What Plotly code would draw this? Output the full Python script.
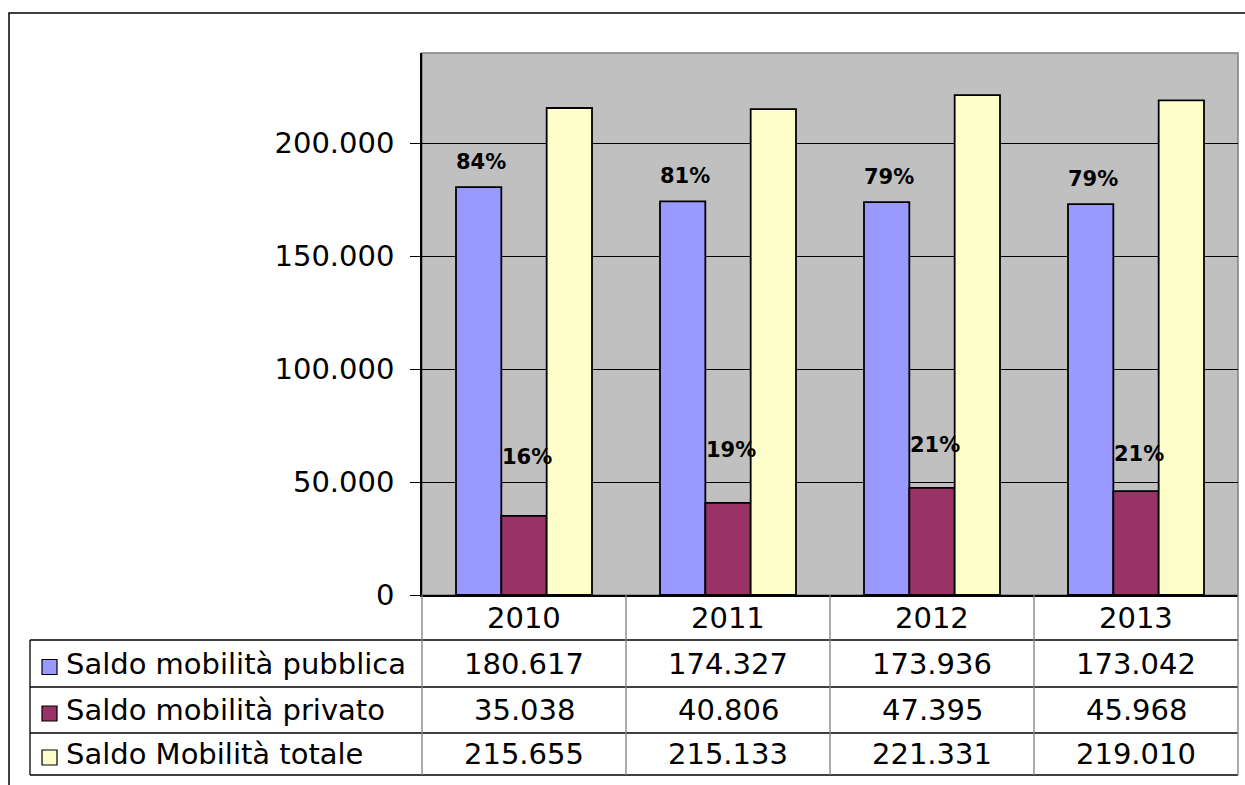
import plotly.graph_objects as go

# Dati: saldo mobilità per anno
years = ["2010", "2011", "2012", "2013"]
series_names = ["Saldo mobilità pubblica", "Saldo mobilità privato", "Saldo Mobilità totale"]
pubblica = [180617, 174327, 173936, 173042]
privato = [35038, 40806, 47395, 45968]
totale = [215655, 215133, 221331, 219010]

colors = ["#9999FF", "#993366", "#FFFFCC"]
series_values = [pubblica, privato, totale]

# Geometria della figura (pixel)
W, H = 1245, 785
PL, PR, PT, PB = 422, 1238, 53, 595  # area del grafico
PW, PH = PR - PL, PB - PT


def fx(px):
    return (px - PL) / PW


def fy(py):
    return (PB - py) / PH


def fmt(v):
    return f"{v:,}".replace(",", ".")


x_pos = list(range(len(years)))
fig = go.Figure()
for name, vals, col in zip(series_names, series_values, colors):
    fig.add_trace(go.Bar(
        x=x_pos, y=vals, name=name,
        marker=dict(color=col, line=dict(color="black", width=1.8)),
        showlegend=False,
    ))

bar_w = (1 - 1 / 3) / 3  # larghezza di ogni barra in unità di categoria

shapes = []
annotations = []

# Etichette percentuali sopra le barre
label_font = dict(family="DejaVu Sans", size=21, color="black", weight="bold")
priv_shift = [59, 53, 43, 37]
for i in x_pos:
    p_pub = round(100 * pubblica[i] / totale[i])
    p_priv = round(100 * privato[i] / totale[i])
    annotations.append(dict(
        x=i - bar_w, y=pubblica[i], xref="x", yref="y", yshift=25, xshift=2,
        text=f"{p_pub}%", showarrow=False, yanchor="middle", font=label_font,
    ))
    annotations.append(dict(
        x=i, y=privato[i], xref="x", yref="y", yshift=priv_shift[i], xshift=3,
        text=f"{p_priv}%", showarrow=False, yanchor="middle", font=label_font,
    ))

# Bordo esterno del grafico
shapes.append(dict(type="rect", xref="paper", yref="paper",
                   x0=fx(9), x1=fx(1300), y0=fy(13), y1=fy(840),
                   line=dict(color="black", width=1.5), layer="below"))
# Bordo dell'area del grafico (alto e destra grigi)
shapes.append(dict(type="rect", xref="paper", yref="paper",
                   x0=0, x1=1, y0=0, y1=1,
                   line=dict(color="#808080", width=1.5), layer="below"))

# Tabella dati
TL = 30
row_lines = [640, 687, 733, 775]
col_lines = [PL + k * PW / len(years) for k in range(len(years) + 1)]
for ry in row_lines:
    shapes.append(dict(type="line", xref="paper", yref="paper",
                       x0=fx(TL), x1=fx(PR), y0=fy(ry), y1=fy(ry),
                       line=dict(color="black", width=1.3)))
shapes.append(dict(type="line", xref="paper", yref="paper",
                   x0=fx(TL), x1=fx(TL), y0=fy(640), y1=fy(775),
                   line=dict(color="black", width=1.3)))
for cx in col_lines:
    shapes.append(dict(type="line", xref="paper", yref="paper",
                       x0=fx(cx), x1=fx(cx), y0=fy(PB), y1=fy(775),
                       line=dict(color="#808080", width=1.3)))

table_font = dict(family="DejaVu Sans", size=29, color="black")
header_y = (PB + 640) / 2
for i, yr in enumerate(years):
    annotations.append(dict(x=i, y=fy(header_y), xref="x", yref="paper",
                            text=yr, showarrow=False, font=table_font,
                            xanchor="center", yanchor="middle"))

for r, (name, vals, col) in enumerate(zip(series_names, series_values, colors)):
    cy = (row_lines[r] + row_lines[r + 1]) / 2
    # quadratino della legenda
    shapes.append(dict(type="rect", xref="paper", yref="paper",
                       x0=fx(42), x1=fx(57), y0=fy(cy + 11), y1=fy(cy - 4),
                       fillcolor=col, line=dict(color="black", width=1.2)))
    annotations.append(dict(x=fx(64), y=fy(cy), xref="paper", yref="paper",
                            text=name, showarrow=False, font=table_font,
                            xanchor="left", yanchor="middle"))
    for i, v in enumerate(vals):
        annotations.append(dict(x=i, y=fy(cy), xref="x", yref="paper",
                                text=fmt(v), showarrow=False, font=table_font,
                                xanchor="center", yanchor="middle"))

fig.update_layout(
    width=W, height=H, autosize=False,
    margin=dict(l=PL, r=W - PR, t=PT, b=H - PB, pad=0),
    paper_bgcolor="white", plot_bgcolor="#C0C0C0",
    barmode="group", bargap=1 / 3, bargroupgap=0,
    separators=",.",
    shapes=shapes, annotations=annotations,
    xaxis=dict(range=[-0.5, len(years) - 0.5], showticklabels=False,
               showgrid=False, zeroline=False, showline=True,
               linecolor="black", linewidth=1.5, ticks=""),
    yaxis=dict(range=[0, 240000], tick0=0, dtick=50000, tickformat=",d",
               showgrid=True, gridcolor="black", gridwidth=1,
               zeroline=False, showline=True, linecolor="black", linewidth=1.5,
               ticks="outside", ticklen=10, tickcolor="black", tickwidth=1,
               ticklabelstandoff=10,
               tickfont=dict(family="DejaVu Sans", size=29, color="black")),
    font=dict(family="DejaVu Sans"),
)

fig.write_html("out.html")
